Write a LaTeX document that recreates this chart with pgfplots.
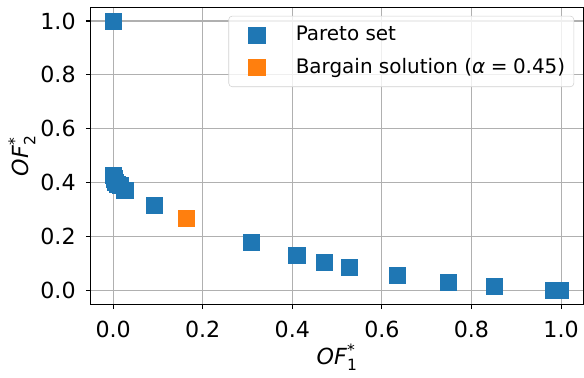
\documentclass[border=0pt]{standalone}
\usepackage{pgfplots}
\pgfplotsset{compat=1.18}
\usepackage{fontspec}
\usepackage{amsmath}
\setmainfont{DejaVu Sans}
\definecolor{c0}{HTML}{1F77B4}
\definecolor{c1}{HTML}{FF7F0E}
\begin{document}
\fontsize{16}{19}\selectfont
\begin{tikzpicture}
\begin{axis}[
  scale only axis,
  width=355.7pt, height=214.2pt,
  xmin=-0.05, xmax=1.05, ymin=-0.05, ymax=1.05,
  xtick={0,0.2,0.4,0.6,0.8,1.0},
  ytick={0,0.2,0.4,0.6,0.8,1.0},
  /pgf/number format/assume math mode=true,
  /pgf/number format/fixed, /pgf/number format/fixed zerofill,
  /pgf/number format/precision=1,
  tick align=outside, tick pos=left,
  major tick length=3.5pt,
  every tick/.style={black, line width=0.8pt},
  axis line style={black, line width=0.8pt},
  grid=major,
  major grid style={color=black!31, line width=0.8pt},
  tick label style={font=\fontsize{16}{19}\selectfont},
  xticklabel style={anchor=base, inner sep=0pt, yshift=-20.9pt},
  yticklabel style={anchor=east, inner sep=0pt, xshift=-7.2pt},
  xlabel={\textit{OF}$^{\text{*}}_{\text{1}}$},
  ylabel={\textit{OF}$^{\text{*}}_{\text{2}}$},
  xlabel style={at={(axis description cs:0.5,-0.2017)}, anchor=base},
  ylabel style={at={(axis description cs:-0.1397,0.5)}, anchor=center},
  legend style={at={(axis description cs:0.981,0.972)}, anchor=north east,
    draw=black!18, rounded corners=2.5pt, fill=white, fill opacity=0.8, text opacity=1, draw opacity=1,
    font=\fontsize{14.4}{17}\selectfont, inner xsep=4.2pt, inner ysep=5.5pt,
    row sep=5.8pt, column sep=0pt},
  legend cell align=left,
  legend image code/.code={\path[draw=none, fill=none] (0pt,0pt) -- (42.2pt,0pt); \draw[#1, draw=none, opacity=1, fill opacity=1] plot coordinates {(16pt,0pt)};},
]
\addplot[only marks, mark=square*, mark size=5.8pt, color=c0, mark options={draw=none, fill=c0}]
coordinates {
(0.000,1.000)
(0.000,0.428)
(0.002,0.415)
(0.005,0.402)
(0.010,0.395)
(0.016,0.390)
(0.026,0.373)
(0.092,0.318)
(0.308,0.181)
(0.410,0.130)
(0.472,0.104)
(0.528,0.086)
(0.634,0.056)
(0.749,0.032)
(0.850,0.016)
(0.982,0.002)
(0.998,0.000)
};
\addlegendentry{Pareto set}
\addplot[only marks, mark=square*, mark size=5.8pt, color=c1, mark options={draw=none, fill=c1}]
coordinates {(0.163,0.269)};
\addlegendentry{Bargain solution (\textit{α}\;=\;0.45)}
\end{axis}
\pgfresetboundingbox
\path ([xshift=-65.5pt,yshift=-52.6pt]current axis.south west) rectangle ([xshift=0.4pt,yshift=5.4pt]current axis.north east);
\end{tikzpicture}
\end{document}
